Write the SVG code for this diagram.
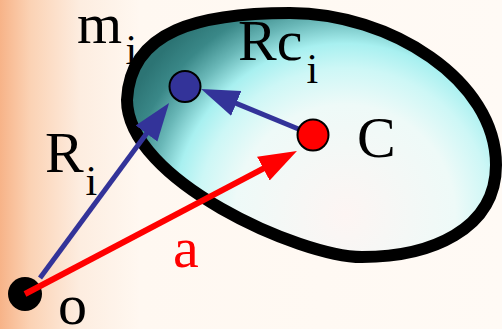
<svg xmlns="http://www.w3.org/2000/svg" width="502" height="329" viewBox="0 0 502 329">
  <defs>
    <linearGradient id="bg" x1="0" y1="0" x2="502" y2="0" gradientUnits="userSpaceOnUse">
      <stop offset="0" stop-color="#f7b388"/>
      <stop offset="0.06" stop-color="#fbd2b4"/>
      <stop offset="0.16" stop-color="#fdede0"/>
      <stop offset="0.28" stop-color="#fff8f1"/>
      <stop offset="1" stop-color="#fffaf5"/>
    </linearGradient>
    <radialGradient id="blob" cx="345" cy="215" r="245" gradientUnits="userSpaceOnUse">
      <stop offset="0" stop-color="#fdf5f3"/>
      <stop offset="0.45" stop-color="#eefaf8"/>
      <stop offset="0.6" stop-color="#cdf7f6"/>
      <stop offset="0.7" stop-color="#a8f0f0"/>
      <stop offset="0.8" stop-color="#6ab8b8"/>
      <stop offset="0.9" stop-color="#3a8888"/>
      <stop offset="1" stop-color="#2c7474"/>
    </radialGradient>
    <marker id="ahBlue" markerUnits="userSpaceOnUse" markerWidth="40" markerHeight="28" refX="2" refY="13.5" orient="auto" viewBox="0 0 40 28">
      <path d="M0,0 L38,13.5 L0,27 Z" fill="#333399"/>
    </marker>
    <marker id="ahRed" markerUnits="userSpaceOnUse" markerWidth="40" markerHeight="28" refX="2" refY="13.5" orient="auto" viewBox="0 0 40 28">
      <path d="M0,0 L38,13.5 L0,27 Z" fill="#ff0000"/>
    </marker>
  </defs>
  <style>
    .lbl { font-family: "Liberation Serif", "Times New Roman", serif; font-size: 58px; fill: #000; }
    .sub { font-family: "Liberation Serif", "Times New Roman", serif; font-size: 42px; fill: #000; }
    .blueLine { stroke: #333399; stroke-width: 5; fill: none; }
    .redLine { stroke: #ff0000; stroke-width: 6; fill: none; }
    .dot { stroke: #000; stroke-width: 2; }
  </style>

  <rect x="0" y="0" width="502" height="329" fill="url(#bg)"/>

  <g id="body">
    <path d="M127,100 C130,30 200,13 290,13 C390,13 496,80 496,165 C496,230 430,257 362,257 C300,257 127,180 127,100 Z" fill="url(#blob)" stroke="#000" stroke-width="12"/>
  </g>

  <g id="node-o">
    <circle cx="25" cy="294" r="17" fill="#000"/>
    <text class="lbl" x="58" y="324">o</text>
  </g>

  <g id="connectors">
    <line id="edge-Ri" class="blueLine" x1="40" y1="278" x2="147.7" y2="132" marker-end="url(#ahBlue)"/>
    <line id="edge-Rci" class="blueLine" x1="313" y1="135" x2="234.4" y2="102.6" marker-end="url(#ahBlue)"/>
    <line id="edge-a" class="redLine" x1="25" y1="294" x2="265.1" y2="167.7" marker-end="url(#ahRed)"/>
  </g>

  <g id="node-mi">
    <circle class="dot" cx="185" cy="86.5" r="15.5" fill="#333399"/>
    <text class="lbl" x="77" y="43">m</text>
    <text class="sub" x="125.5" y="64">i</text>
  </g>

  <g id="node-C">
    <circle class="dot" cx="313" cy="135" r="15.5" fill="#ff0000"/>
    <text class="lbl" x="357" y="157">C</text>
  </g>

  <g id="label-Rci">
    <text class="lbl" x="238" y="60">Rc</text>
    <text class="sub" x="306.5" y="83">i</text>
  </g>

  <g id="label-Ri">
    <text class="lbl" x="45" y="172">R</text>
    <text class="sub" x="85.5" y="195">i</text>
  </g>

  <g id="label-a">
    <text class="lbl" x="173" y="267" style="fill:#ff0000">a</text>
  </g>
</svg>
